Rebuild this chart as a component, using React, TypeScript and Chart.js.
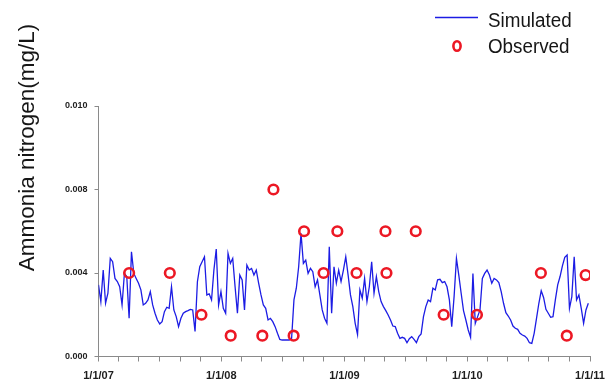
import { useEffect, useRef } from 'react';
import { Chart, registerables } from 'chart.js';

Chart.register(...registerables);

// Simulated ammonia nitrogen, one value per week from the start date (mg/L)
const simStart = '2007-01-01';
const simStepDays = 7;
const simulated = [
  0.00343, 0.00263, 0.00414, 0.00255, 0.00303, 0.0047, 0.00454, 0.00374, 0.00359, 0.00334,
  0.00247, 0.00398, 0.00383, 0.00183, 0.00502, 0.00398, 0.00374, 0.00351, 0.00319, 0.00247,
  0.00255, 0.00271, 0.00311, 0.00247, 0.00207, 0.00175, 0.00156, 0.00167, 0.00215, 0.00236,
  0.00231, 0.00334, 0.00223, 0.00191, 0.00143, 0.00183, 0.00207, 0.00215, 0.0022, 0.00226,
  0.00223, 0.0012, 0.00358, 0.0043, 0.00454, 0.00478, 0.00295, 0.003, 0.00271, 0.00414,
  0.00515, 0.00247, 0.00311, 0.00231, 0.00207, 0.00494, 0.00446, 0.0047, 0.00334, 0.00207,
  0.0039, 0.00367, 0.00223, 0.00438, 0.00414, 0.00422, 0.0039, 0.00414, 0.00351, 0.00295,
  0.00247, 0.00231, 0.00175, 0.00183, 0.00167, 0.00143, 0.00111, 0.00082, 0.00079, 0.00079,
  0.00079, 0.00079, 0.00087, 0.00271, 0.00327, 0.0043, 0.0059, 0.00446, 0.00462, 0.00398,
  0.00422, 0.00406, 0.00334, 0.00367, 0.00295, 0.00223, 0.00183, 0.00159, 0.00526, 0.00207,
  0.0043, 0.00351, 0.00414, 0.00359, 0.00414, 0.00478, 0.0039, 0.00295, 0.00239, 0.00159,
  0.00105, 0.00319, 0.00279, 0.00374, 0.00263, 0.00334, 0.00454, 0.00303, 0.00383, 0.00311,
  0.00263, 0.00239, 0.0022, 0.00199, 0.00175, 0.00146, 0.00143, 0.00111, 0.00087, 0.00092,
  0.00087, 0.00066, 0.00085, 0.00095, 0.00082, 0.00066, 0.00095, 0.00108, 0.00191, 0.00239,
  0.00271, 0.00263, 0.00327, 0.00319, 0.00367, 0.0037, 0.00354, 0.00359, 0.00334, 0.00271,
  0.00143, 0.00287, 0.0047, 0.0039, 0.00303, 0.0022, 0.00175, 0.00127, 0.00092, 0.00398,
  0.00159, 0.00191, 0.00223, 0.00374, 0.00398, 0.00414, 0.0039, 0.00351, 0.00374, 0.00367,
  0.00354, 0.00311, 0.00255, 0.0021, 0.00194, 0.00175, 0.00146, 0.00135, 0.0013, 0.00111,
  0.00103, 0.00098, 0.00087, 0.00066, 0.00063, 0.00111, 0.00183, 0.00255, 0.00315, 0.00283,
  0.00226, 0.00207, 0.00188, 0.00191, 0.00271, 0.00343, 0.00383, 0.00434, 0.00475, 0.00486,
  0.00231, 0.00287, 0.00478, 0.00271, 0.00295, 0.00231, 0.00159, 0.00223, 0.00255,
];

// Observed samples
const observedDates = [
  '2007-04-02', '2007-08-01', '2007-11-03', '2008-01-29', '2008-05-02', '2008-06-04',
  '2008-08-03', '2008-09-03', '2008-10-31', '2008-12-11', '2009-02-06', '2009-05-03',
  '2009-05-06', '2009-08-01', '2009-10-23', '2010-01-30', '2010-08-08', '2010-10-24',
  '2010-12-19',
];
const observed = [
  0.004, 0.004, 0.002, 0.001, 0.001, 0.008, 0.001, 0.006, 0.004, 0.006, 0.004, 0.006,
  0.004, 0.006, 0.002, 0.002, 0.004, 0.001, 0.0039,
];

const yTickValues = [0, 0.004, 0.008, 0.012];
const yTickLabels = ['0.000', '0.004', '0.008', '0.010'];
const axisStartYear = 2007;
const axisEndYear = 2011;
const yTitle = 'Ammonia nitrogen(mg/L)';
const legendLabels = ['Simulated', 'Observed'];

const DAY_MS = 86400000;
const originMs = Date.parse(simStart);
const dayOf = (ms: number) => (ms - originMs) / DAY_MS;

// tick every two months; label only on 1 January
const xTicks: { day: number; label: string }[] = [];
for (let y = axisStartYear; y <= axisEndYear; y++) {
  for (let m = 0; m < 12; m += 2) {
    if (y === axisEndYear && m > 0) break;
    xTicks.push({
      day: dayOf(Date.UTC(y, m, 1)),
      label: m === 0 ? `1/1/${String(y % 100).padStart(2, '0')}` : '',
    });
  }
}

const BLUE = 'rgb(28, 28, 228)';
const RED = 'rgb(236, 24, 36)';
const AXIS = '#8a8a8a';

const decorations = {
  id: 'decorations',
  afterDraw(chart: any) {
    const ctx = chart.ctx as CanvasRenderingContext2D;
    ctx.save();
    // y-axis title
    ctx.save();
    ctx.translate(34, 147.5);
    ctx.rotate(-Math.PI / 2);
    ctx.font = '22.5px "Liberation Sans", Arial, sans-serif';
    ctx.fillStyle = '#161616';
    ctx.textAlign = 'center';
    ctx.textBaseline = 'alphabetic';
    ctx.fillText(yTitle, 0, 0);
    ctx.restore();

    // legend
    ctx.strokeStyle = BLUE;
    ctx.lineWidth = 1.5;
    ctx.beginPath();
    ctx.moveTo(435, 17.5);
    ctx.lineTo(478, 17.5);
    ctx.stroke();

    ctx.strokeStyle = RED;
    ctx.lineWidth = 2.6;
    ctx.beginPath();
    ctx.ellipse(457, 46, 3.6, 4.8, 0, 0, Math.PI * 2);
    ctx.stroke();

    ctx.fillStyle = '#161616';
    ctx.font = '20px "Liberation Sans", Arial, sans-serif';
    ctx.textAlign = 'left';
    ctx.textBaseline = 'alphabetic';
    const rows = [26.5, 53];
    legendLabels.forEach((t, i) => {
      ctx.save();
      ctx.translate(488, rows[i]);
      ctx.scale(0.94, 1);
      ctx.fillText(t, 0, 0);
      ctx.restore();
    });
    ctx.restore();
  },
};

export default function App() {
  const canvasRef = useRef<HTMLCanvasElement | null>(null);

  useEffect(() => {
    if (!canvasRef.current) return;
    const chart = new Chart(canvasRef.current, {
      type: 'line',
      data: {
        datasets: [
          {
            label: legendLabels[1],
            data: observedDates.map((d, i) => ({ x: dayOf(Date.parse(d)), y: observed[i] })),
            showLine: false,
            pointStyle: 'circle',
            pointRadius: 4.8,
            pointBorderWidth: 2.6,
            pointBorderColor: RED,
            pointBackgroundColor: 'rgba(0,0,0,0)',
            borderColor: RED,
            order: 0,
          },
          {
            label: legendLabels[0],
            data: simulated.map((v, i) => ({ x: i * simStepDays, y: v })),
            borderColor: BLUE,
            borderWidth: 1.3,
            pointRadius: 0,
            tension: 0,
            fill: false,
            order: 1,
          },
        ],
      },
      options: {
        animation: false,
        responsive: true,
        maintainAspectRatio: false,
        layout: { padding: { top: 106, right: 23, left: 0, bottom: 0 } },
        plugins: {
          legend: { display: false },
          tooltip: { enabled: false },
        },
        scales: {
          x: {
            type: 'linear',
            min: xTicks[0].day,
            max: xTicks[xTicks.length - 1].day,
            afterFit: (scale: any) => {
              scale.height = 33.5;
            },
            afterBuildTicks: (scale: any) => {
              scale.ticks = xTicks.map((t) => ({ value: t.day }));
            },
            grid: {
              display: true,
              drawOnChartArea: false,
              drawTicks: true,
              tickLength: 5,
              tickColor: AXIS,
            },
            border: { display: true, color: AXIS, width: 1 },
            ticks: {
              autoSkip: false,
              maxRotation: 0,
              padding: 8,
              color: '#1e1e1e',
              font: { family: '"Liberation Sans", Arial, sans-serif', size: 11, weight: 'bold' },
              callback: (_v: any, i: number) => xTicks[i].label,
            },
          },
          y: {
            type: 'linear',
            min: yTickValues[0],
            max: yTickValues[yTickValues.length - 1],
            afterFit: (scale: any) => {
              scale.width = 98.5;
            },
            afterBuildTicks: (scale: any) => {
              scale.ticks = yTickValues.map((v) => ({ value: v }));
            },
            grid: {
              display: true,
              drawOnChartArea: false,
              drawTicks: true,
              tickLength: 4,
              tickColor: AXIS,
            },
            border: { display: true, color: AXIS, width: 1 },
            ticks: {
              padding: 7,
              color: '#1e1e1e',
              font: { family: '"Liberation Sans", Arial, sans-serif', size: 9, weight: 'bold' },
              callback: (_v: any, i: number) => yTickLabels[i],
            },
          },
        },
      },
      plugins: [decorations],
    });
    return () => chart.destroy();
  }, []);

  return (
    <div style={{ position: 'absolute', left: 0, top: 0, width: 613, height: 390, background: '#fff' }}>
      <canvas ref={canvasRef} />
    </div>
  );
}
